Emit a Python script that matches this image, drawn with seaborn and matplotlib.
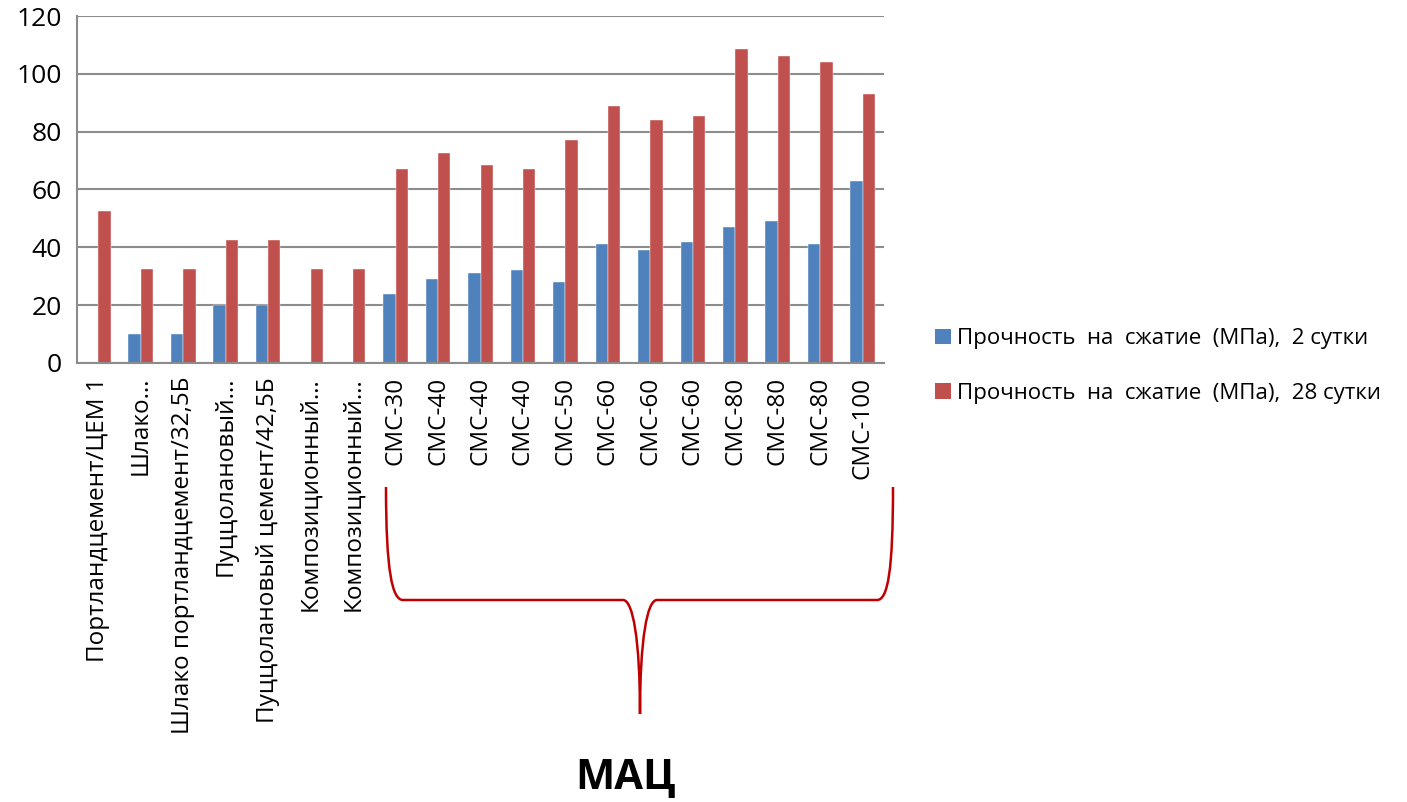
import matplotlib
matplotlib.use("Agg")
import matplotlib.pyplot as plt
from matplotlib.path import Path
from matplotlib.patches import PathPatch, Patch
import seaborn as sns
import pandas as pd
import numpy as np

# DATA
categories = [
    "Портландцемент/ЦЕМ 1", "Шлако…", "Шлако портландцемент/32,5Б",
    "Пуццолановый…", "Пуццолановый цемент/42,5Б", "Композиционный…",
    "Композиционный…", "СМС-30", "СМС-40", "СМС-40", "СМС-40", "СМС-50",
    "СМС-60", "СМС-60", "СМС-60", "СМС-80", "СМС-80", "СМС-80", "СМС-100",
]
strength_2d = [0, 10, 10, 20, 20, 0, 0, 24, 29, 31, 32, 28, 41, 39, 42, 47, 49, 41, 63]
strength_28d = [52.5, 32.5, 32.5, 42.5, 42.5, 32.5, 32.5, 67, 72.5, 68.5, 67, 77,
                89, 84, 85.5, 108.5, 106, 104, 93]
series_names = ["Прочность  на  сжатие  (МПа),  2 сутки",
                "Прочность  на  сжатие  (МПа),  28 сутки"]
colors = ["#4F81BD", "#C0504D"]

W, H = 1407, 802

sns.set_style("white")
plt.rcParams["font.family"] = ["Open Sans", "DejaVu Sans"]
plt.rcParams["text.color"] = "black"
plt.rcParams["xtick.color"] = "black"
plt.rcParams["ytick.color"] = "black"

df = pd.DataFrame({
    "pos": list(range(len(categories))) * 2,
    "value": strength_2d + strength_28d,
    "series": [series_names[0]] * len(categories) + [series_names[1]] * len(categories),
})

fig = plt.figure(figsize=(W / 100, H / 100), dpi=100)
ax = fig.add_axes([77 / W, 1 - 363 / H, (884 - 77) / W, (363 - 16) / H])

sns.barplot(data=df, x="pos", y="value", hue="series", palette=colors,
            width=0.58, gap=0, ax=ax, saturation=1, legend=False,
            edgecolor="white", linewidth=0.3)

ax.set_xlim(-0.5, len(categories) - 0.5)
ax.set_ylim(0, 120)
ax.set_yticks(range(0, 121, 20))
ax.set_xlabel("")
ax.set_ylabel("")
ax.grid(axis="y", color="#8C8C8C", linewidth=1.5)
ax.set_axisbelow(True)
for s in ["top", "right"]:
    ax.spines[s].set_visible(False)
for s in ["left", "bottom"]:
    ax.spines[s].set_color("#8C8C8C")
    ax.spines[s].set_linewidth(1.5)

ax.set_xticks(range(len(categories)))
ax.set_xticklabels(categories, rotation=90, fontsize=17.5, va="top", ha="center")
ax.set_xticks(np.arange(-0.5, len(categories), 1), minor=True)
ax.tick_params(axis="x", which="major", length=0, pad=10)
ax.tick_params(axis="x", which="minor", length=6, color="#8C8C8C", width=1.5, direction="out")
ax.tick_params(axis="y", length=6, color="#8C8C8C", width=1.5, labelsize=19, pad=5)

# legend
handles = [Patch(facecolor=c, edgecolor="none") for c in colors]
fig.legend(handles, series_names, loc="center left",
           bbox_to_anchor=(915 / W, 1 - 366 / H), frameon=False, fontsize=16,
           handlelength=0.7, handleheight=0.7, handletextpad=0.3, labelspacing=1.5)

# brace under СМС group
def px(x, y):
    return (x / W, 1 - y / H)

verts = [px(386, 487), px(386, 570), px(392, 600), px(403, 600),
         px(623, 600),
         px(633, 600), px(640, 640), px(640, 714),
         px(640, 640), px(647, 600), px(657, 600),
         px(877, 600),
         px(888, 600), px(893, 570), px(893, 487)]
codes = [Path.MOVETO, Path.CURVE4, Path.CURVE4, Path.CURVE4,
         Path.LINETO,
         Path.CURVE4, Path.CURVE4, Path.CURVE4,
         Path.CURVE4, Path.CURVE4, Path.CURVE4,
         Path.LINETO,
         Path.CURVE4, Path.CURVE4, Path.CURVE4]
fig.add_artist(PathPatch(Path(verts, codes), transform=fig.transFigure,
                         facecolor="none", edgecolor="#C00000", linewidth=1.8))

fig.text(626 / W, 1 - 778 / H, "МАЦ", fontsize=30, fontweight="bold",
         ha="center", va="center")

fig.savefig("out.png", dpi=100)
